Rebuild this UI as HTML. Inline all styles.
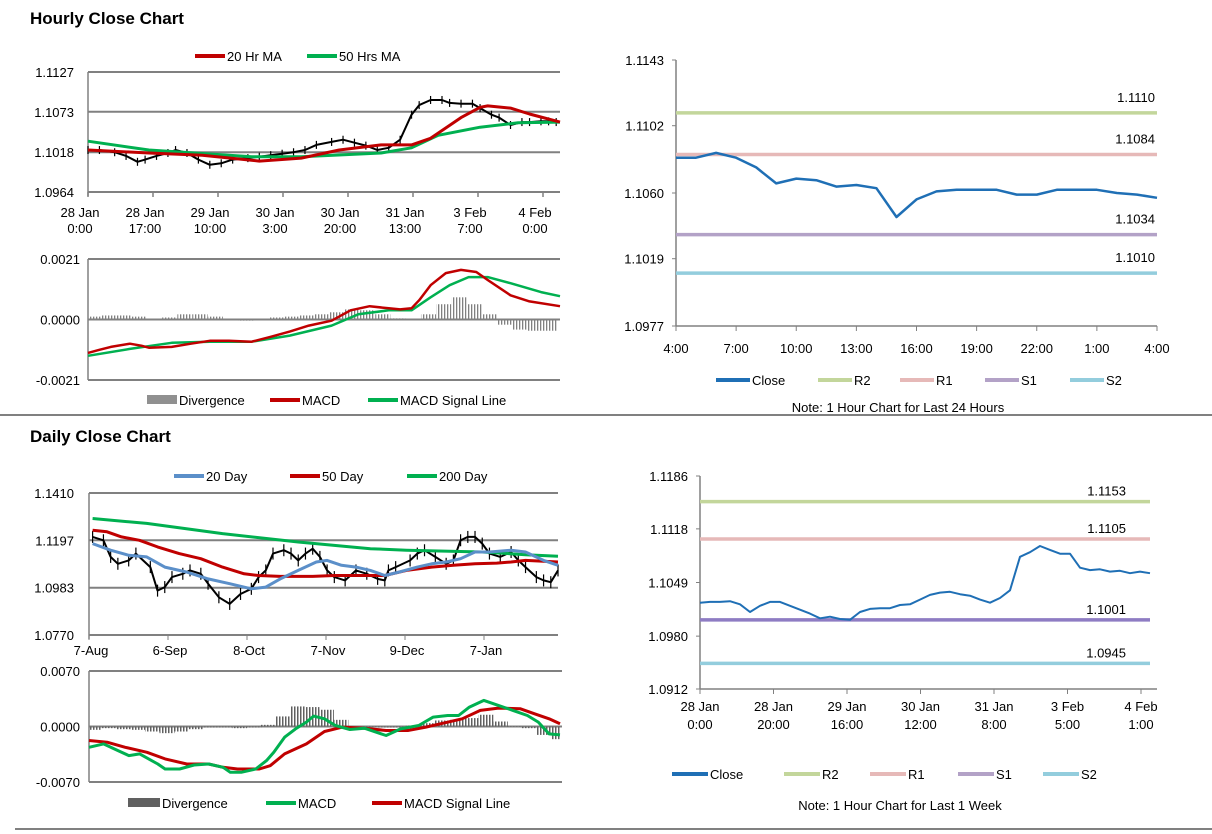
<!DOCTYPE html>
<html><head><meta charset="utf-8">
<style>
body{margin:0;background:#fff;width:1212px;height:834px;overflow:hidden;font-family:"Liberation Sans",Arial,sans-serif;}
svg{position:absolute;left:0;top:0}
text{font-family:"Liberation Sans",Arial,sans-serif;font-size:13px;fill:#000}
</style></head><body>
<svg id="s" width="1212" height="834">
<defs>
<pattern id="stripeG" width="3" height="4" patternUnits="userSpaceOnUse"><rect width="1.3" height="4" fill="#808080"/></pattern>
<pattern id="stripeD" width="3" height="4" patternUnits="userSpaceOnUse"><rect width="1.5" height="4" fill="#606060"/></pattern>
<clipPath id="clipH"><rect x="88" y="250" width="470" height="140"/></clipPath>
<clipPath id="clipD"><rect x="89" y="660" width="472" height="130"/></clipPath>
</defs>
<text x="30" y="24" style="font-size:17px;font-weight:bold">Hourly Close Chart</text>
<text x="30" y="442" style="font-size:17px;font-weight:bold">Daily Close Chart</text>
<line x1="0" y1="415" x2="1212" y2="415" stroke="#808080" stroke-width="2"/>
<line x1="15" y1="829" x2="1212" y2="829" stroke="#808080" stroke-width="2"/>
</svg>
<script>
// ---------- Hourly price chart data ----------
const hCloseHours=[0,3,7,10,13,15,18,21,23,26,29,32,35,38,42,45,48,51,54,57,60,64,67,70,73,76,79,82,85,87,90,93,95,98,101,103,106,108,111,114,116,119,121,123];
const hCloseVals=[1.1021,1.1021,1.1018,1.1013,1.1005,1.1008,1.1013,1.1017,1.1021,1.1017,1.1008,1.1001,1.1003,1.1008,1.1010,1.1012,1.1014,1.1016,1.1018,1.1021,1.1028,1.1032,1.1035,1.1031,1.1027,1.1021,1.1024,1.1035,1.1069,1.1082,1.1089,1.1089,1.1085,1.1084,1.1084,1.1078,1.1069,1.1065,1.1055,1.1059,1.1059,1.1060,1.1060,1.1059];
const hMA20Hours=[0,16,30,45,56,66,77,85,90,98,103,105,111,116,124];
const hMA20Vals=[1.1021,1.1017,1.1014,1.1006,1.1010,1.1021,1.1028,1.1028,1.1037,1.1065,1.1079,1.1081,1.1078,1.1070,1.1059];
const hMA50Hours=[0,16,43,56,77,85,92,103,113,124];
const hMA50Vals=[1.1033,1.1021,1.1012,1.1012,1.1017,1.1024,1.1041,1.1052,1.1058,1.1059];
const hPriceTicks=["1.1127","1.1073","1.1018","1.0964"];
const hTimeLabels=[["28 Jan","0:00"],["28 Jan","17:00"],["29 Jan","10:00"],["30 Jan","3:00"],["30 Jan","20:00"],["31 Jan","13:00"],["3 Feb","7:00"],["4 Feb","0:00"]];
// ---------- Hourly MACD data ----------
const hMacdHours=[0,3,6,11,14,16,22,27,32,37,43,48,53,58,64,69,74,79,82,85,87,90,94,98,102,105,111,116,124];
const hMacdVals=[-0.00116,-0.00105,-0.00095,-0.00084,-0.00091,-0.00098,-0.00095,-0.00084,-0.00074,-0.00074,-0.00077,-0.0006,-0.00042,-0.00021,-0.00004,0.00032,0.00046,0.00039,0.00035,0.00039,0.00067,0.00119,0.00161,0.00172,0.00165,0.00137,0.00084,0.00063,0.00046];
const hSigHours=[0,11,22,32,43,53,64,71,79,85,90,95,100,105,111,119,124];
const hSigVals=[-0.00126,-0.00102,-0.00081,-0.00077,-0.00077,-0.00056,-0.00021,0.00018,0.00032,0.00032,0.00077,0.00119,0.00147,0.00147,0.00126,0.00095,0.00081];
const hDivVals=[0.0001,0.00014,0.00014,0.0001,0,0.00007,0.00018,0.00018,0.0001,0,-0.00004,0,0.00007,0.0001,0.00014,0.00018,0.00025,0.00035,0.00032,0.00018,0.00004,0,0.00018,0.00053,0.00077,0.00053,0.00018,-0.00018,-0.00035,-0.00039,-0.00039,-0.00039];
const hMacdTicks=["0.0021","0.0000","-0.0021"];
// ---------- Right hourly (24h) ----------
const r1Labels=["4:00","7:00","10:00","13:00","16:00","19:00","22:00","1:00","4:00"];
const r1Close=[1.1082,1.1082,1.1085,1.1082,1.1076,1.1066,1.1069,1.1068,1.1064,1.1065,1.1063,1.1045,1.1056,1.1061,1.1062,1.1062,1.1062,1.1059,1.1059,1.1062,1.1062,1.1062,1.1060,1.1059,1.1057];
const r1Levels=[1.1110,1.1084,1.1034,1.1010];
const r1Ticks=["1.1143","1.1102","1.1060","1.1019","1.0977"];
// ---------- Daily price data ----------
const dCloseDays=[1,4,6,8,11,13,17,19,21,23,26,28,31,33,36,39,42,45,47,49,51,54,56,58,60,62,64,66,68,71,74,77,80,82,83,85,89,91,93,96,99,101,103,105,107,109,111,114,117,119,121,124,126,128,130];
const dCloseVals=[1.1212,1.1197,1.1122,1.1091,1.1106,1.1137,1.1076,1.0970,1.0986,1.1031,1.1046,1.1061,1.1046,1.1001,1.0940,1.0910,1.0955,1.0978,1.1031,1.1061,1.1137,1.1152,1.1137,1.1106,1.1137,1.1159,1.1122,1.1061,1.1031,1.1016,1.1061,1.1046,1.1023,1.1016,1.1061,1.1076,1.1106,1.1137,1.1152,1.1122,1.1091,1.1106,1.1197,1.1212,1.1212,1.1182,1.1137,1.1122,1.1144,1.1106,1.1076,1.1031,1.1016,1.1008,1.1061];
const d20Days=[1,6,11,16,21,27,33,39,45,49,53,58,63,66,70,74,78,82,86,91,95,99,103,107,111,117,121,126,130];
const d20Vals=[1.1182,1.1152,1.1129,1.1122,1.1076,1.1054,1.1023,1.1001,1.0978,1.0986,1.1023,1.1061,1.1099,1.1106,1.1084,1.1076,1.1061,1.1038,1.1054,1.1076,1.1091,1.1099,1.1114,1.1144,1.1144,1.1152,1.1144,1.1106,1.1084];
const d50Days=[1,5,9,14,19,25,31,37,43,47,53,62,68,76,82,88,95,101,107,113,117,121,126,130];
const d50Vals=[1.1242,1.1235,1.1212,1.1197,1.1167,1.1137,1.1114,1.1076,1.1046,1.1038,1.1034,1.1034,1.1038,1.1038,1.1038,1.1061,1.1076,1.1084,1.1091,1.1094,1.1099,1.1106,1.1102,1.1099];
const d200Days=[1,16,37,58,78,88,109,121,130];
const d200Vals=[1.1295,1.1273,1.1227,1.1189,1.1159,1.1152,1.1144,1.1132,1.1125];
const dPriceTicks=["1.1410","1.1197","1.0983","1.0770"];
const dDateLabels=["7-Aug","6-Sep","8-Oct","7-Nov","9-Dec","7-Jan"];
// ---------- Daily MACD ----------
const dMacdDays=[0,4,8,11,14,19,21,25,29,33,37,39,42,46,49,51,54,57,60,62,65,68,72,76,82,86,91,95,99,102,105,109,113,117,121,124,127,130];
const dMacdVals=[-0.00262,-0.00219,-0.00304,-0.00367,-0.00346,-0.00473,-0.00536,-0.00536,-0.00485,-0.00473,-0.00515,-0.00578,-0.00578,-0.00536,-0.0043,-0.00325,-0.00135,-0.0003,0.00055,0.00131,0.00097,0.00013,-0.00038,-0.00021,-0.00114,-0.0003,0.00013,0.00118,0.00139,0.00139,0.00245,0.00329,0.00266,0.00203,0.00139,0.00055,-0.00093,-0.00106];
const dSigDays=[0,5,10,16,21,27,33,37,41,47,50,54,60,65,70,76,82,88,93,97,103,108,113,119,123,127,130];
const dSigVals=[-0.00177,-0.00198,-0.00262,-0.00325,-0.00409,-0.00473,-0.00473,-0.00515,-0.00536,-0.00536,-0.00494,-0.00346,-0.00219,-0.00063,-0.00008,-0.00021,-0.00051,-0.00051,-0.00008,0.00034,0.00097,0.00203,0.00232,0.00224,0.0016,0.00097,0.00034];
const dDivVals=[-0.00042,-0.00021,-0.00034,-0.00042,-0.00063,-0.00084,-0.00063,-0.00034,-0.00013,-0.00013,-0.00021,-0.00013,0.00021,0.00127,0.00253,0.00245,0.00211,0.00084,0,0,-0.00013,-0.00013,0.00013,0.00042,0.00076,0.00084,0.00106,0.00148,0.00063,0,-0.00021,-0.00106,-0.0016];
const dMacdTicks=["0.0070","0.0000","-0.0070"];
// ---------- Right daily (1 week) ----------
const r2Labels=[["28 Jan","0:00"],["28 Jan","20:00"],["29 Jan","16:00"],["30 Jan","12:00"],["31 Jan","8:00"],["3 Feb","5:00"],["4 Feb","1:00"]];
const r2Close=[1.1023,1.1024,1.1024,1.1025,1.1021,1.1011,1.1019,1.1024,1.1024,1.1019,1.1014,1.1009,1.1003,1.1005,1.1002,1.1001,1.1011,1.1015,1.1016,1.1016,1.1020,1.1021,1.1027,1.1033,1.1036,1.1037,1.1034,1.1032,1.1027,1.1023,1.1029,1.1039,1.1082,1.1088,1.1096,1.1091,1.1086,1.1086,1.1068,1.1065,1.1066,1.1063,1.1064,1.1061,1.1063,1.1061];
const r2Levels=[1.1153,1.1105,1.1001,1.0945];
const r2Ticks=["1.1186","1.1118","1.1049","1.0980","1.0912"];

const NS="http://www.w3.org/2000/svg";
const svg=document.getElementById('s');
function el(tag,attrs,parent){const e=document.createElementNS(NS,tag);for(const k in attrs)e.setAttribute(k,attrs[k]);(parent||svg).appendChild(e);return e;}
function lin(d0,d1,r0,r1){return v=>r0+(v-d0)/(d1-d0)*(r1-r0);}
function txt(x,y,s,anchor,name){const t=el('text',{x:x,y:y,'text-anchor':anchor||'start'});t.textContent=s;


return t;}
function poly(xs,ys,X,Y,color,w,name){const pts=xs.map((x,i)=>X(x).toFixed(1)+','+Y(ys[i]).toFixed(1)).join(' ');
const p=el('polyline',{points:pts,fill:'none',stroke:color,'stroke-width':w,'stroke-linejoin':'round'});


return p;}
function legend(x,y,color,label,name,w,bar){
 const g=el('g',{});
 
 
 if(bar) el('rect',{x:x,y:y-5,width:w||30,height:9,fill:bar},g);
 else el('line',{x1:x,y1:y,x2:x+(w||30),y2:y,stroke:color,'stroke-width':4},g);
 const t=el('text',{x:x+(w||30)+2,y:y+5},g);t.textContent=label;
}
function hline(x1,x2,y,c,w,name){const l=el('line',{x1:x1,x2:x2,y1:y,y2:y,stroke:c,'stroke-width':w});


return l;}

// ===== Hourly price chart =====
(function(){
 const X=lin(0,124,88,560), Y=lin(1.0964,1.1127,192,72);
 hPriceTicks.forEach((t,i)=>{const y=Y(parseFloat(t));hline(88,560,y,'#808080',2,'h-gridline');txt(74,y+5,t,'end','h-price-tick');});
 el('line',{x1:88,x2:88,y1:72,y2:196,stroke:'#808080','stroke-width':1.5});
 hTimeLabels.forEach((l,i)=>{const x=88+i*65;el('line',{x1:x,x2:x,y1:192,y2:197,stroke:'#808080','stroke-width':1.5});txt(x-8,217,l[0],'middle','h-time-label');txt(x-8,233,l[1],'middle','h-time-label');});
 hCloseHours.forEach((h,i)=>{const x=X(h),y=Y(hCloseVals[i]);const t=el('line',{x1:x,x2:x,y1:y-4,y2:y+4,stroke:'#000','stroke-width':1.2});
  
  });
 poly(hCloseHours,hCloseVals,X,Y,'#000',2,'h-close-line');
 poly(hMA50Hours,hMA50Vals,X,Y,'#00b050',3,'h-ma50-line');
 poly(hMA20Hours,hMA20Vals,X,Y,'#c00000',3,'h-ma20-line');
 legend(195,56,'#c00000','20 Hr MA','legend-20hr-ma');
 legend(307,56,'#00b050','50 Hrs MA','legend-50hrs-ma');
})();
// ===== Hourly MACD =====
(function(){
 const X=lin(0,124,88,560), Y=lin(-0.0021,0.0021,380,259);
 hMacdTicks.forEach(t=>{const y=Y(parseFloat(t));hline(88,560,y,'#808080',2,'h-macd-gridline');txt(80,y+5,t,'end','h-macd-tick');});
 el('line',{x1:88,x2:88,y1:259,y2:380,stroke:'#808080','stroke-width':1.5});
 const g=el('g',{'clip-path':'url(#clipH)'});
 hDivVals.forEach((v,i)=>{const x=X(i*4)-2,y0=Y(0),y=Y(v);const r=el('rect',{x:x,y:Math.min(y0,y),width:15,height:Math.max(Math.abs(y-y0),0.5),fill:'url(#stripeG)'},g);
  
  });
 poly(hSigHours,hSigVals,X,Y,'#00b050',2.5,'h-signal-line');
 poly(hMacdHours,hMacdVals,X,Y,'#c00000',2.5,'h-macd-line');
 legend(147,400,null,'Divergence','legend-divergence',30,'#909090');
 legend(270,400,'#c00000','MACD','legend-macd');
 legend(368,400,'#00b050','MACD Signal Line','legend-macd-signal');
})();
// ===== Right hourly =====
(function(){
 const X=lin(0,24,676,1157), Y=lin(1.0977,1.1143,326,60);
 el('line',{x1:676,x2:676,y1:60,y2:326,stroke:'#808080','stroke-width':1.5});
 el('line',{x1:676,x2:1157,y1:326,y2:326,stroke:'#808080','stroke-width':1.5});
 r1Ticks.forEach(t=>{const y=Y(parseFloat(t));el('line',{x1:672,x2:676,y1:y,y2:y,stroke:'#808080'});txt(664,y+5,t,'end','r1-price-tick');});
 r1Labels.forEach((l,i)=>{const x=X(i*3);el('line',{x1:x,x2:x,y1:326,y2:331,stroke:'#808080'});txt(x,353,l,'middle','r1-time-label');});
 const cols=['#c3d69b','#e6b9b8','#b3a2c7','#93cddd'],nm=['r2','r1','s1','s2'];
 r1Levels.forEach((v,i)=>{const y=Y(v);hline(676,1157,y,cols[i],3.5,'r1-level-'+nm[i]);txt(1155,y-11,v.toFixed(4),'end','r1-level-label');});
 poly(r1Close.map((v,i)=>i),r1Close,X,Y,'#1f6fb5',2.5,'r1-close-line');
 legend(716,380,'#1f6fb5','Close','legend-close',34);
 legend(818,380,'#c3d69b','R2','legend-r2',34);
 legend(900,380,'#e6b9b8','R1','legend-r1',34);
 legend(985,380,'#b3a2c7','S1','legend-s1',34);
 legend(1070,380,'#93cddd','S2','legend-s2',34);
 txt(898,412,'Note: 1 Hour Chart for Last 24 Hours','middle','r1-note');
})();
// ===== Daily price =====
(function(){
 const X=lin(0,130,89,558), Y=lin(1.0770,1.1410,635,493);
 dPriceTicks.forEach(t=>{const y=Y(parseFloat(t));hline(89,558,y,'#808080',2,'d-gridline');txt(74,y+5,t,'end','d-price-tick');});
 el('line',{x1:89,x2:89,y1:493,y2:639,stroke:'#808080','stroke-width':1.5});
 dDateLabels.forEach((l,i)=>{const x=89+i*79;el('line',{x1:x,x2:x,y1:635,y2:640,stroke:'#808080'});txt(x+2,655,l,'middle','d-date-label');});
 dCloseDays.forEach((d,i)=>{const x=X(d),y=Y(dCloseVals[i]);const t=el('line',{x1:x,x2:x,y1:y-6,y2:y+6,stroke:'#000','stroke-width':1.2});
  
  });
 poly(dCloseDays,dCloseVals,X,Y,'#000',2,'d-close-line');
 poly(d200Days,d200Vals,X,Y,'#00b050',3,'d-ma200-line');
 poly(d50Days,d50Vals,X,Y,'#c00000',3,'d-ma50-line');
 poly(d20Days,d20Vals,X,Y,'#5b8fc9',3,'d-ma20-line');
 legend(174,476,'#5b8fc9','20 Day','legend-20-day');
 legend(290,476,'#c00000','50 Day','legend-50-day');
 legend(407,476,'#00b050','200 Day','legend-200-day');
})();
// ===== Daily MACD =====
(function(){
 const X=lin(0,130,89,560), Y=lin(-0.0070,0.0070,782,671);
 dMacdTicks.forEach(t=>{const y=Y(parseFloat(t));hline(89,562,y,'#808080',2,'d-macd-gridline');txt(80,y+5,t,'end','d-macd-tick');});
 el('line',{x1:89,x2:89,y1:671,y2:782,stroke:'#808080','stroke-width':1.5});
 const g=el('g',{'clip-path':'url(#clipD)'});
 dDivVals.forEach((v,i)=>{const x=X(i*4)-2,y0=Y(0),y=Y(v);const r=el('rect',{x:x,y:Math.min(y0,y),width:15,height:Math.max(Math.abs(y-y0),0.5),fill:'url(#stripeD)'},g);
  
  });
 poly(dSigDays,dSigVals,X,Y,'#c00000',3,'d-signal-line');
 poly(dMacdDays,dMacdVals,X,Y,'#00b050',3,'d-macd-line');
 legend(128,803,null,'Divergence','legend-d-divergence',32,'#606060');
 legend(266,803,'#00b050','MACD','legend-d-macd');
 legend(372,803,'#c00000','MACD Signal Line','legend-d-macd-signal');
})();
// ===== Right daily =====
(function(){
 const X=lin(0,45,700,1150), Y=lin(1.0912,1.1186,689,476);
 el('line',{x1:700,x2:700,y1:476,y2:689,stroke:'#808080','stroke-width':1.5});
 el('line',{x1:700,x2:1157,y1:689,y2:689,stroke:'#808080','stroke-width':1.5});
 r2Ticks.forEach(t=>{const y=Y(parseFloat(t));el('line',{x1:696,x2:700,y1:y,y2:y,stroke:'#808080'});txt(688,y+5,t,'end','r2-price-tick');});
 r2Labels.forEach((l,i)=>{const x=700+i*73.5;el('line',{x1:x,x2:x,y1:689,y2:694,stroke:'#808080'});txt(x,711,l[0],'middle','r2-time-label');txt(x,729,l[1],'middle','r2-time-label');});
 const cols=['#c3d69b','#e6b9b8','#8e7cc3','#93cddd'],nm=['r2','r1','s1','s2'];
 r2Levels.forEach((v,i)=>{const y=Y(v);hline(700,1150,y,cols[i],3.5,'r2-level-'+nm[i]);txt(1126,y-6,v.toFixed(4),'end','r2-level-label');});
 poly(r2Close.map((v,i)=>i),r2Close,X,Y,'#1f6fb5',2,'r2-close-line');
 legend(672,774,'#1f6fb5','Close','legend-w-close',36);
 legend(784,774,'#c3d69b','R2','legend-w-r2',36);
 legend(870,774,'#e6b9b8','R1','legend-w-r1',36);
 legend(958,774,'#b3a2c7','S1','legend-w-s1',36);
 legend(1043,774,'#93cddd','S2','legend-w-s2',36);
 txt(900,810,'Note: 1 Hour Chart for Last 1 Week','middle','r2-note');
})();
</script>
</body></html>
